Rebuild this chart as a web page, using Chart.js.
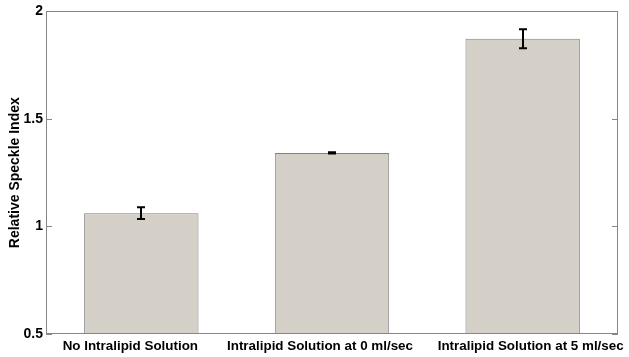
<!DOCTYPE html>
<html>
<head>
<meta charset="utf-8">
<script src="https://cdn.jsdelivr.net/npm/chart.js@4/dist/chart.umd.min.js"></script>
<style>
  html, body { margin: 0; padding: 0; background: #ffffff; }
  #wrap { width: 629px; height: 357px; }
</style>
</head>
<body>
<div id="wrap"><canvas id="c" width="629" height="357"></canvas></div>
<script>
// Mean relative speckle index per condition, with its error half-width
const categories = ['No Intralipid Solution', 'Intralipid Solution at 0 ml/sec', 'Intralipid Solution at 5 ml/sec'];
const meanIndex = [1.062, 1.342, 1.873];
const errIndex = [0.027, 0.003, 0.044];
const yTicks = [0.5, 1, 1.5, 2];
// horizontal nudge (px) of each category label relative to its bar
const labelShift = [-11, -12, 8];

const FONT = '"Liberation Sans", Arial, Helvetica, sans-serif';
const AXIS_GRAY = '#868686';

// Shift the x category labels sideways once per layout
const labelNudgePlugin = {
  id: 'labelNudge',
  beforeDraw(chart) {
    const items = chart.scales.x.getLabelItems();
    if (items && !items._nudged) {
      items.forEach((it, i) => { it.options.translation[0] += labelShift[i] || 0; });
      items._nudged = true;
    }
  }
};

// Framed axes box, inward y ticks on both sides, and error bars
const framePlugin = {
  id: 'frameAndErrors',
  afterDatasetsDraw(chart) {
    const ctx = chart.ctx;
    const area = chart.chartArea;
    const y = chart.scales.y;
    ctx.save();
    // error bars
    const meta = chart.getDatasetMeta(0);
    ctx.strokeStyle = '#000000';
    ctx.lineWidth = 2;
    meta.data.forEach((bar, i) => {
      const x = Math.round(bar.x);
      const yHi = y.getPixelForValue(meanIndex[i] + errIndex[i]);
      const yLo = y.getPixelForValue(meanIndex[i] - errIndex[i]);
      ctx.beginPath();
      ctx.moveTo(x, yHi); ctx.lineTo(x, yLo);
      ctx.moveTo(x - 4, yHi); ctx.lineTo(x + 4, yHi);
      ctx.moveTo(x - 4, yLo); ctx.lineTo(x + 4, yLo);
      ctx.stroke();
    });
    // axes box
    ctx.strokeStyle = AXIS_GRAY;
    ctx.lineWidth = 1;
    ctx.strokeRect(Math.round(area.left) + 0.5, Math.round(area.top) + 0.5,
                   Math.round(area.right - area.left) - 1, Math.round(area.bottom - area.top) - 1);
    // inward ticks
    ctx.beginPath();
    yTicks.forEach(v => {
      const py = Math.round(y.getPixelForValue(v)) + 0.5;
      ctx.moveTo(area.left, py); ctx.lineTo(area.left + 6, py);
      ctx.moveTo(area.right, py); ctx.lineTo(area.right - 6, py);
    });
    ctx.stroke();
    ctx.restore();
  }
};

new Chart(document.getElementById('c'), {
  type: 'bar',
  data: {
    labels: categories,
    datasets: [{
      data: meanIndex,
      backgroundColor: '#d4d0c8',
      borderColor: '#808080',
      borderWidth: 1,
      borderSkipped: false,
      barPercentage: 0.6,
      categoryPercentage: 1.0
    }]
  },
  options: {
    responsive: false,
    animation: false,
    devicePixelRatio: 1,
    layout: { padding: { top: 10, right: 11, left: 0, bottom: 0 } },
    plugins: {
      legend: { display: false },
      tooltip: { enabled: false }
    },
    scales: {
      x: {
        grid: { display: false, drawTicks: false, tickLength: 0 },
        border: { display: false },
        ticks: {
          color: '#000000',
          padding: 4,
          maxRotation: 0,
          autoSkip: false,
          font: { family: FONT, size: 13.4, weight: 'bold' }
        },
        afterFit(scale) { scale.height = 23; }
      },
      y: {
        min: 0.5,
        max: 2,
        grid: { display: false, drawTicks: false, tickLength: 0 },
        border: { display: false },
        afterBuildTicks(scale) { scale.ticks = yTicks.map(v => ({ value: v })); },
        ticks: {
          color: '#000000',
          padding: 3,
          font: { family: FONT, size: 14, weight: 'bold' },
          callback: v => String(v)
        },
        title: {
          display: true,
          text: 'Relative Speckle Index',
          color: '#000000',
          padding: { top: 7, bottom: 0 },
          font: { family: FONT, size: 14, weight: 'bold' }
        },
        afterFit(scale) { scale.width = 46; }
      }
    }
  },
  plugins: [labelNudgePlugin, framePlugin]
});
</script>
</body>
</html>
